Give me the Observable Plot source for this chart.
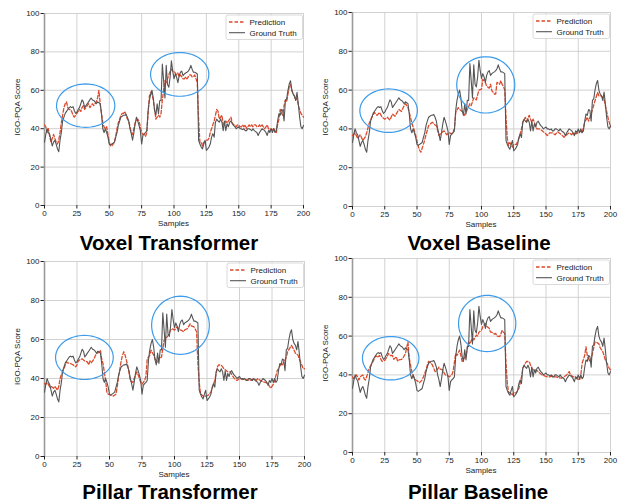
<!DOCTYPE html>
<html><head><meta charset="utf-8">
<script src="https://cdn.jsdelivr.net/npm/d3@7"></script>
<script src="https://cdn.jsdelivr.net/npm/@observablehq/plot@0.6"></script>
<style>
body{margin:0;background:#fff;font-family:"Liberation Sans",Arial,sans-serif}
#wrap{position:relative;width:624px;height:502px;overflow:hidden;background:#fff}
#wrap svg{position:absolute}
</style></head>
<body><div id="wrap"></div>
<script>
// ---------- data ----------
const xTicks = [0,25,50,75,100,125,150,175,200];
const yTicks = [0,20,40,60,80,100];
const panelTitles = ["Voxel Transformer","Voxel Baseline","Pillar Transformer","Pillar Baseline"];
const legendLabels = ["Prediction","Ground Truth"];
const xLabel = "Samples";
const yLabel = "IGO-PQA Score";

// ground truth, samples 0..200
const groundTruth = [
33,37,40,38,37,34,31,33,34,32, 29.5,28,34,38,44,46,48,49,50,51,
51.5,51,51.5,49.5,48,48.6,50,51,53,55, 54,51,52,53,54,55,56,55,54.7,54,
53,54,53.5,53,47.7,40,38,40,38,35.6, 32,31.5,32,32.5,33,35.6,38,41.7,44,46,
46.5,47,47,47.4,46,44,40,37.4,34,38, 42.6,46,44,41.7,39,32,36.5,37.4,38,39,
49.5,54.7,58,60,56,49.5,47,53,47.7,54.7, 54.7,73.7,65,56,73,63,61.6,66.8,75.4,70,
66,68.5,66.8,64,67.6,69.4,70,67.6,68.5,69, 69.4,70,71,73,71,69.4,69.4,69,68.5,34,
32,30.5,29.5,32,34,28.7,29.5,30.5,32,35.6, 37.4,35.6,43.4,45,44,43.4,45,43.4,39,44,
39,42.6,41,43.4,44,42.6,41.7,41,40,40.5, 41,40,40,39.5,40,39,39,40,40,39.5,
39,40,39,38.5,38,36.5,38,39,40,39.5, 39,38,36.5,39,38,40,38,40,38,39,
44,47.7,47,50,49.5,44,54.7,55.5,60,63.3, 65,60,58,57,54.7,59,53,46,41,40,
41.7
];

// Voxel Transformer prediction, samples 0..200
const predVoxelTransformer = [
42,41,38,40,36,33,35,37,35,33, 32,34,38,43,47,51,53,54,51,50,
50,49,47,46,47,48,49,50,49,51, 52,50,51,52,53,51,52,53,52,53,
54,56,60,53,48,43,41,40,41,37, 33,31,31,32,33,36,40,43,45,47,
48,48,49,47,45,44,41,38,37,40, 43,44,45,44,41,38,37,37,36,38,
48,57,59,58,55,50,45,46,47,46, 48,55,60,65,64,66,68,70,71,70,
70,69,68,69,67,68,67,66,66,67, 66,67,68,68,67,67,68,66,64,45,
33,33,31,33,33,34,34,35,38,40, 42,44,47,50,49,45,46,47,42,43,
44,43,44,45,46,43,42,42,41,42, 42,41,41,42,41,42,40,41,42,41,
42,41,42,42,41,41,42,41,42,41, 40,41,42,40,39,40,39,40,39,38,
42,45,50,48,47,52,55,54,58,62, 63,60,58,57,55,56,52,50,48,47,
46
];

// Voxel Baseline prediction (sample, value)
const predVoxelBaselineX = [0,2,4,6,8,10,11,13,15,17,19,21,23,25,27,29,31,33,35,36,38,40,41,43,44,46,48,49,51,52,53,54,55,57,59,61,62,64,65,67,69,71,73,75,77,79,80,82,83,85,87,89,91,92,94,96,98,100,101,103,104,106,107,108,110,111,112,114,115,116,117,118,119,120,121,122,124,125,127,129,131,132,134,135,137,138,139,140,142,143,145,147,149,151,153,155,157,159,160,162,164,166,168,170,171,173,175,177,178,180,182,183,185,186,188,190,191,193,195,196,198,200];
const predVoxelBaselineY = [36.6,38,35,37,34,36,38,43,46,48.5,47,48.5,46,45,46,44.5,47.7,46.5,49,50,49,52,53,51,48.5,43,39,36.6,31,29,28,30,32,37,41.7,43,43.4,42,41.7,36.6,38,39,37,38,37.4,40,48.5,51,50,49,47,50,53,52,56,55,60,60.5,65.6,64,62,61,63,59.7,58,58,64,63,64.8,63,62,60,46,35,31.5,33,30.6,32,32,35,40,43.4,46,44,47,45,43.4,45,41.7,40,40,39,38,36.6,38,38,37,38.5,38,37,35.7,37,38,37,38,37.4,38,39,38,43.4,46,44,47.7,50,54.5,58.8,57,57,55.4,52,46,41];

// Pillar Transformer prediction (sample, value)
const predPillarTransformerX = [0,1,2,3,4,5,7,8,10,11,12,13,15,16,17,18,20,22,24,25,26,28,29,31,33,34,35,36,38,40,41,43,44,45,47,48,49,51,53,55,56,57,59,60,61,62,64,65,66,68,69,71,72,74,75,77,78,79,81,82,84,85,87,88,90,92,93,95,97,98,100,102,104,105,107,108,110,112,113,115,117,118,119,120,121,123,124,126,128,129,131,133,134,136,137,138,140,141,143,144,146,148,150,152,154,156,158,159,161,163,164,166,168,170,172,173,174,176,177,179,180,182,183,185,186,187,189,190,192,193,195,196,198,199,200];
const predPillarTransformerY = [37.4,37,38,37,35.7,36,35,36,34,36,40,42,45,47,48.5,48,47.7,47,46,47,49,50,50,49,48.5,47,49,48,50,53,53,54.5,50,47.7,39,33,32,31.5,31,32,36,41,49,52,53.7,52,46.8,43,39,38,40,43.4,42,38,37,39,41,50,52,54.5,52,50,48.5,50,51,59.7,60,62,64.8,65.6,64.8,66.5,65,64.8,64,65,65.6,68,67,66.5,64,47.7,38,32.3,31.5,30.6,31,31.5,33,35,39,46,47,46.8,46,45,44,43.4,43.4,42,40,39,40,39.5,40,39,39.5,39,40,39,40,39,38.3,38,37.4,36,35,37,39,44,45,47.7,47,49.4,51,53.7,56,57,54.5,53,52,50,46.8,45,45];

// Pillar Baseline prediction (sample, value)
const predPillarBaselineX = [0,1,3,4,5,6,8,9,10,11,13,15,16,18,19,21,22,23,25,26,28,29,31,32,34,35,36,38,39,41,42,43,44,45,46,48,49,51,52,54,55,57,58,59,61,62,64,65,67,68,70,71,72,74,75,77,78,80,81,83,84,85,87,88,90,91,93,94,96,97,98,100,101,103,104,106,107,108,110,111,112,114,115,116,117,118,119,120,121,122,124,125,127,128,129,131,132,134,135,137,138,139,141,142,144,145,147,149,151,153,155,156,158,160,162,164,166,168,169,171,173,174,176,177,178,180,181,182,184,185,186,188,189,191,192,194,195,196,198,199,200];
const predPillarBaselineY = [39,38,40,39,37.4,39,40,38,37.4,39,43.4,46,47,50,49,50,48,47,47.5,48.5,51,50,50,48,49.4,47,47.7,48,48.5,51,54,57,48.5,45,41.7,38,37.4,36.6,36,37.4,39,42.6,45,47,46,45,41.7,42,44,43,42.6,41,40,39.5,39,40,42,51,50,52.8,50,47,49,50,57,56,59,58,60.5,60,62,63,64.8,66.5,65,64,62,62,61,61.4,60,59.7,61,63,62,61.4,46,36,30.6,31,29.7,31,30.6,32,33,39,43.4,46,47,46.8,45,43.4,42,42.6,41.7,41,40,39.5,39,39,39.5,39,39,38.5,38.3,39,40,41.7,40,39,39,38,37.4,40,46,50,54.5,50,46.8,48,51,57,57,56,54,52,50,47.7,45,43.4,42.6];

// highlight ellipses per panel: [centre sample, centre score, half-width samples, half-height score]
const ellipsesVoxelTransformer = [[31.8,52,22.5,11.3],[104.4,68.3,22.5,11.4]];
const ellipsesVoxelBaseline    = [[28,49.4,22.3,11.2],[103.3,62.7,22.5,14.5]];
const ellipsesPillarTransformer= [[30.7,50.8,22.2,11.3],[104.6,67.3,22.2,14.9]];
const ellipsesPillarBaseline   = [[29.6,48.6,21.9,11.2],[104.4,66.5,22.2,14.5]];

// ---------- layout ----------
const COL_PRED = "#dc4a2c", COL_GT = "#555555", COL_ELL = "#3c9bea";
const FONT = "'Liberation Sans', Arial, sans-serif";
const panels = [
  {title:panelTitles[0], px:d3.range(201), py:predVoxelTransformer, ell:ellipsesVoxelTransformer,
   left:0, top:0, w:312, h:235, L:44, R:303, T:13, B:205, tx:169, ty:250},
  {title:panelTitles[1], px:predVoxelBaselineX, py:predVoxelBaselineY, ell:ellipsesVoxelBaseline,
   left:312, top:0, w:312, h:235, L:352, R:610, T:12, B:206, tx:479, ty:250},
  {title:panelTitles[2], px:predPillarTransformerX, py:predPillarTransformerY, ell:ellipsesPillarTransformer,
   left:0, top:251, w:312, h:235, L:44, R:304, T:261, B:456, tx:170, ty:499},
  {title:panelTitles[3], px:predPillarBaselineX, py:predPillarBaselineY, ell:ellipsesPillarBaseline,
   left:312, top:251, w:312, h:235, L:352, R:610, T:258, B:452, tx:478, ty:499}
];

const wrap = document.getElementById("wrap");

for (const p of panels) {
  const gt = groundTruth.map((v,i)=>({x:i, y:v}));
  const pr = p.px.map((x,i)=>({x, y:p.py[i]}));
  const ell = [];
  p.ell.forEach((e,k)=>{
    for (let a=0;a<72;a++){const t=a/72*2*Math.PI; ell.push({k, x:e[0]+e[2]*Math.cos(t), y:e[1]+e[3]*Math.sin(t)});}
  });
  const svg = Plot.plot({
    width:p.w, height:p.h,
    marginLeft:p.L-p.left, marginRight:p.left+p.w-p.R,
    marginTop:p.T-p.top, marginBottom:p.top+p.h-p.B,
    x:{domain:[0,200]}, y:{domain:[0,100]},
    style:{fontFamily:FONT, fontSize:"8px", color:"#222", background:"transparent", overflow:"visible"},
    marks:[
      Plot.gridX(xTicks, {stroke:"#cdcdcd", strokeOpacity:1, strokeWidth:0.9}),
      Plot.gridY(yTicks, {stroke:"#cdcdcd", strokeOpacity:1, strokeWidth:0.9}),
      Plot.axisX(xTicks, {tickSize:3.5, tickPadding:1.5, label:null, tickFormat:d=>String(d)}),
      Plot.axisY(yTicks, {tickSize:3.5, tickPadding:1.5, label:null, tickFormat:d=>String(d)}),
      Plot.ruleX([0], {stroke:"#9a9a9a", strokeWidth:1.6}),
      Plot.line(pr, {x:"x", y:"y", stroke:COL_PRED, strokeWidth:1.3, strokeDasharray:"3.5,2"}),
      Plot.line(gt, {x:"x", y:"y", stroke:COL_GT, strokeWidth:1.1}),
      Plot.line(ell, {x:"x", y:"y", z:"k", stroke:COL_ELL, strokeWidth:1.2, curve:"linear-closed"})
    ]
  });
  svg.style.left = p.left+"px"; svg.style.top = p.top+"px";
  wrap.appendChild(svg);
}

// overlay: axis labels, legends, titles
const ov = d3.select(wrap).append("svg").attr("width",624).attr("height",502)
  .style("left","0px").style("top","0px").style("font-family",FONT);
for (const p of panels) {
  ov.append("text").attr("x",(p.L+p.R)/2).attr("y",p.B+21).attr("text-anchor","middle")
    .attr("font-size",8).attr("fill","#222").text(xLabel);
  ov.append("text").attr("transform",`translate(${p.L-24},${(p.T+p.B)/2-2}) rotate(-90)`)
    .attr("text-anchor","middle").attr("font-size",8).attr("fill","#222").text(yLabel);
  const bx = p.R-77, by = p.T+2;
  ov.append("rect").attr("x",bx).attr("y",by).attr("width",76.5).attr("height",24.5).attr("rx",2)
    .attr("fill","#fff").attr("fill-opacity",0.85).attr("stroke","#d0d0d0").attr("stroke-width",0.8);
  ov.append("line").attr("x1",bx+3).attr("x2",bx+19).attr("y1",by+7).attr("y2",by+7)
    .attr("stroke",COL_PRED).attr("stroke-width",1.3).attr("stroke-dasharray","3.5,2");
  ov.append("text").attr("x",bx+23.5).attr("y",by+9.8).attr("font-size",8).attr("fill","#222").text(legendLabels[0]);
  ov.append("line").attr("x1",bx+3).attr("x2",bx+19).attr("y1",by+17.7).attr("y2",by+17.7)
    .attr("stroke",COL_GT).attr("stroke-width",1.1);
  ov.append("text").attr("x",bx+23.5).attr("y",by+20.5).attr("font-size",8).attr("fill","#222").text(legendLabels[1]);
  ov.append("text").attr("x",p.tx).attr("y",p.ty).attr("text-anchor","middle")
    .attr("font-size",20.5).attr("font-weight","bold").attr("fill","#000").text(p.title);
}
</script></body></html>
